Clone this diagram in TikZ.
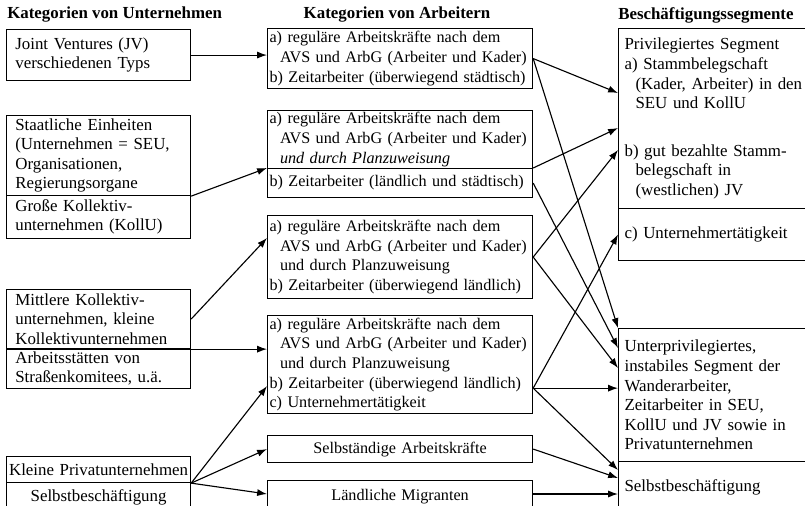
\documentclass[tikz,border=0pt]{standalone}
\usepackage{fontspec}
\setmainfont{Liberation Serif}
\usetikzlibrary{calc,arrows.meta}
\newcommand{\einr}{\hspace*{0.65em}}

\begin{document}
\begin{tikzpicture}[x=0.025cm,y=-0.025cm,
  kasten/.style={draw,line width=0.8pt,anchor=north west,inner ysep=0pt,font=\fontsize{12}{13.9}\selectfont},
  spalte1/.style={kasten,align=left,inner xsep=0.22cm,text width=4.16cm},
  spalte1z/.style={kasten,align=center,inner xsep=0.05cm,text width=4.5cm},
  spalte2/.style={kasten,align=left,inner xsep=0.05cm,text width=6.525cm,font=\fontsize{11.5}{13.9}\selectfont},
  spalte2z/.style={spalte2,align=center},
  spalte3/.style={kasten,align=left,inner xsep=0.15cm,text width=4.45cm},
  titel/.style={font=\fontsize{12}{13.9}\selectfont\bfseries,inner sep=0pt},
  pfeil/.style={line width=0.8pt,-{Latex[length=7pt,width=5pt]}}]
  \useasboundingbox (0,0) rectangle (805,506);
  % Spaltenkoepfe
  \node[titel,anchor=west] (kopf1) at (7,15) {Kategorien von Unternehmen};
  \node[titel] (kopf2) at (397,15) {Kategorien von Arbeitern};
  \node[titel,anchor=west] (kopf3) at (618,15) {Beschäftigungssegmente};
  % Unternehmen
  \node[spalte1,minimum height=1.275cm] (u1) at (6,29) {Joint Ventures (JV)\\verschiedenen Typs};
  \node[spalte1,minimum height=2cm] (u2a) at (6,115) {Staatliche Einheiten\\(Unternehmen = SEU,\\Organisationen,\\Regierungsorgane};
  \node[spalte1,minimum height=1.075cm] (u2b) at (6,195) {Große Kollektiv-\\unternehmen (KollU)};
  \node[spalte1,minimum height=1.475cm] (u3a) at (6,289) {Mittlere Kollektiv-\\unternehmen, kleine\\Kollektivunternehmen};
  \node[spalte1,minimum height=1cm] (u3b) at (6,348) {Arbeitsstätten von\\Straßenkomitees, u.ä.};
  \node[spalte1z,minimum height=0.65cm] (u4a) at (6,456) {Kleine Privatunternehmen};
  \node[spalte1z,minimum height=0.75cm] (u4b) at (6,482) {Selbstbeschäftigung};
  % Arbeiter
  \node[spalte2,minimum height=1.5cm] (m1) at (267,28) {a) reguläre Arbeitskräfte nach dem\\\einr AVS und ArbG (Arbeiter und Kader)\\b) Zeitarbeiter (überwiegend städtisch)};
  \node[spalte2,minimum height=1.45cm] (m2a) at (267,110) {a) reguläre Arbeitskräfte nach dem\\\einr AVS und ArbG (Arbeiter und Kader)\\\einr\textit{und durch Planzuweisung}};
  \node[spalte2,minimum height=0.725cm] (m2b) at (267,168) {b) Zeitarbeiter (ländlich und städtisch)};
  \node[spalte2,minimum height=2.075cm] (m3) at (267,215) {a) reguläre Arbeitskräfte nach dem\\\einr AVS und ArbG (Arbeiter und Kader)\\\einr und durch Planzuweisung\\b) Zeitarbeiter (überwiegend ländlich)};
  \node[spalte2,minimum height=2.45cm] (m4) at (267,315) {a) reguläre Arbeitskräfte nach dem\\\einr AVS und ArbG (Arbeiter und Kader)\\\einr und durch Planzuweisung\\b) Zeitarbeiter (überwiegend ländlich)\\c) Unternehmertätigkeit};
  \node[spalte2z,minimum height=0.675cm] (m5) at (267,435) {Selbständige Arbeitskräfte};
  \node[spalte2z,minimum height=0.8cm] (m6) at (267,480) {Ländliche Migranten};
  % Segmente
  \node[spalte3,minimum height=4.5cm] (r1a) at (618,28) {Privilegiertes Segment\\a) Stammbelegschaft\\\einr(Kader, Arbeiter) in den\\\einr SEU und KollU\\[20pt]b) gut bezahlte Stamm-\\\einr belegschaft in\\\einr(westlichen) JV};
  \node[spalte3,minimum height=1.3cm] (r1b) at (618,208) {c) Unternehmertätigkeit};
  \node[spalte3,minimum height=3.325cm] (r2a) at (618,328) {Unterprivilegiertes,\\instabiles Segment der\\Wanderarbeiter,\\Zeitarbeiter in SEU,\\KollU und JV sowie in\\Privatunternehmen};
  \node[spalte3,minimum height=1.275cm] (r2b) at (618,461) {Selbstbeschäftigung};
  \coordinate (m4p) at ($(m4.south east)+(0,-26)$);
  \coordinate (m6p) at ($(m6.north east)+(0,14)$);
  % Unternehmen -> Arbeiter
  \draw[pfeil] (u1.east) -- (m1.west |- u1.east);
  \draw[pfeil] (u2a.south east) -- (m2b.north west);
  \draw[pfeil] (u3a.east) -- ($(m3.north west)+(0,23)$);
  \draw[pfeil] (u3a.south west) -- (m4.west |- u3a.south west);
  \draw[pfeil] (u4a.south east) -- ($(m4.south west)+(0,-28)$);
  \draw[pfeil] (u4a.south east) -- (m5.west);
  \draw[pfeil] (u4a.south east) -- (m6.west |- m6p);
  % Arbeiter -> Segmente
  \draw[pfeil] (m1.east) -- ($(r1a.north west)+(0,65)$);
  \draw[pfeil] (m1.east) -- (r2a.north west);
  \draw[pfeil] (m2b.north east) -- ($(r1a.north west)+(0,100)$);
  \draw[pfeil] (m2b.east) -- ($(r2a.north west)+(0,20)$);
  \draw[pfeil] (m3.east) -- ($(r1a.north west)+(0,122)$);
  \draw[pfeil] (m3.east) -- ($(r2a.north west)+(0,40)$);
  \draw[pfeil] (m4p) -- (r1b.west);
  \draw[pfeil] (m4p) -- (r2a.west |- m4p);
  \draw[pfeil] (m4p) -- ($(r2b.north west)+(0,9)$);
  \draw[pfeil] (m5.east) -- ($(r2b.north west)+(0,17)$);
  \draw[pfeil] (m6p) -- (r2b.west |- m6p);
\end{tikzpicture}
\end{document}
